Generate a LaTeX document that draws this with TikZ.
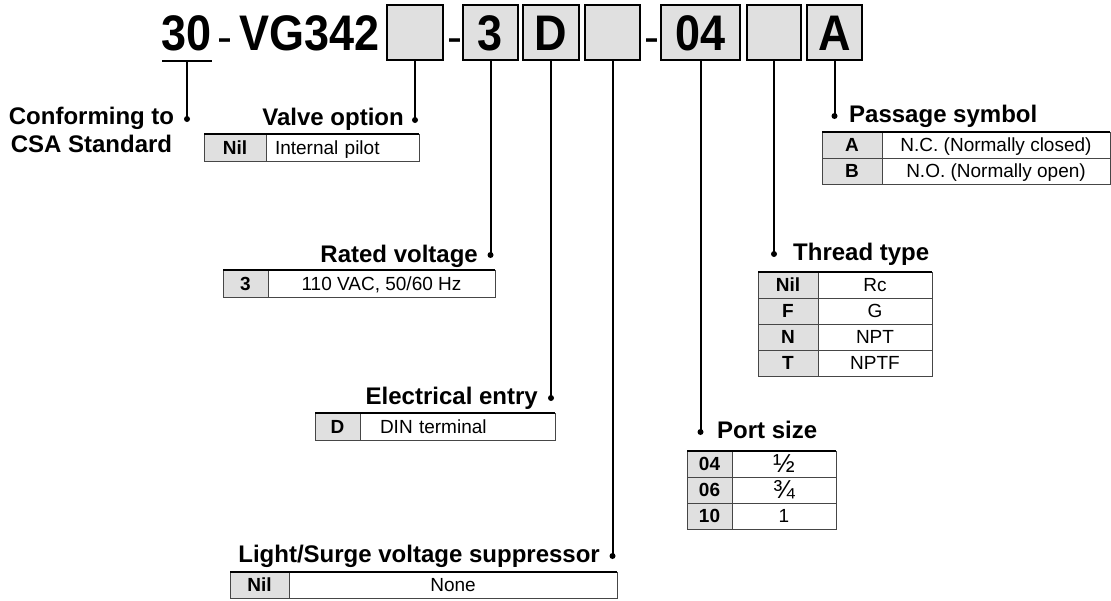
\documentclass[tikz,border=0pt]{standalone}
\usepackage{fontspec}
\setmainfont{Liberation Sans}
\newfontfamily\codefont{Liberation Sans Bold}[FakeStretch=0.9]
\usetikzlibrary{positioning}
\definecolor{cellGray}{RGB}{224,224,224}
\definecolor{ruleGray}{RGB}{70,70,70}
\tikzset{%%
  codebox/.style={draw=black, line width=2pt, fill=cellGray, minimum height=55pt, inner sep=0pt, outer sep=0pt, text height=36pt, text depth=0pt, font=\fontsize{50}{50}\codefont},
  codetxt/.style={inner sep=0pt, font=\fontsize{50}{50}\codefont},
  lead/.style={line width=2pt},
  leaddot/.style={circle, fill=black, inner sep=0pt, minimum size=6pt},
  ttl/.style={inner sep=0pt, font=\fontsize{24}{28}\selectfont\bfseries},
  keycell/.style={draw=ruleGray, line width=1pt, fill=cellGray, inner sep=0pt, outer sep=0pt, text height=13.6pt, text depth=0pt, font=\fontsize{19}{19}\selectfont\bfseries},
  valcell/.style={draw=ruleGray, line width=1pt, fill=white, inner sep=0pt, outer sep=0pt, text height=13.6pt, text depth=0pt, font=\fontsize{19}{19}\selectfont},
  topline/.style={line width=2pt}
  }

\begin{document}
\begin{tikzpicture}[x=1pt,y=-1pt]
  \useasboundingbox (0,0) rectangle (1111,600);
  % model code
  \node[codetxt, anchor=base] (code30) at (187,50.5) {30};
  \node[codetxt, font=\fontsize{45}{45}\selectfont, anchor=base] (hyph1) at (225,52) {-};
  \node[codetxt, anchor=base west] (codeVG) at (239,50.5) {VG342};
  \node[codebox, minimum width=56pt] (box1) at (415,32.5) {};
  \node[codetxt, font=\fontsize{45}{45}\selectfont, anchor=base] (hyph2) at (455,52) {-};
  \node[codebox, minimum width=55pt] (box3) at (490.5,32.5) {3};
  \node[codebox, minimum width=56pt] (boxD) at (551,32.5) {D};
  \node[codebox, minimum width=55pt] (box4) at (612.5,32.5) {};
  \node[codetxt, font=\fontsize{45}{45}\selectfont, anchor=base] (hyph3) at (652,52) {-};
  \node[codebox, minimum width=79pt] (box04) at (700.5,32.5) {04};
  \node[codebox, minimum width=54pt] (box6) at (774,32.5) {};
  \node[codebox, minimum width=55pt] (boxA) at (834.5,32.5) {A};
  \coordinate (u30) at (187,61);
  \draw[lead] ([xshift=-25pt]u30) -- ([xshift=25pt]u30);

  % leader dots
  \node[leaddot] (dCsa) at (187,119) {};
  \node[leaddot] (dValve) at (415,120) {};
  \node[leaddot] (dRated) at (490.5,255) {};
  \node[leaddot] (dElec) at (551,398) {};
  \node[leaddot] (dLight) at (612.5,556) {};
  \node[leaddot] (dPort) at (700.5,432) {};
  \node[leaddot] (dThread) at (774,254) {};
  \node[leaddot] (dPass) at (834.5,116) {};
  \draw[lead] (u30) -- (dCsa.center);
  \draw[lead] (box1.south) -- (dValve.center);
  \draw[lead] (box3.south) -- (dRated.center);
  \draw[lead] (boxD.south) -- (dElec.center);
  \draw[lead] (box4.south) -- (dLight.center);
  \draw[lead] (box04.south) -- (dPort.center);
  \draw[lead] (box6.south) -- (dThread.center);
  \draw[lead] (boxA.south) -- (dPass.center);

  % titles
  \node[ttl, align=center, anchor=north] (tCsa) at (91.5,107) {Conforming to\\CSA Standard};
  \node[ttl, anchor=base east] (tValve) at (404,125) {Valve option};
  \node[ttl, anchor=base east] (tRated) at (478,262) {Rated voltage};
  \node[ttl, anchor=base east] (tElec) at (538,404) {Electrical entry};
  \node[ttl, anchor=base east] (tLight) at (600,562) {Light/Surge voltage suppressor};
  \node[ttl, anchor=base west] (tPort) at (717,438) {Port size};
  \node[ttl, anchor=base west] (tThread) at (793,260) {Thread type};
  \node[ttl, anchor=base west] (tPass) at (849,122) {Passage symbol};

  % valve option
  \node[keycell, anchor=north west, minimum width=62pt, minimum height=27pt] (vk) at (204,134) {Nil};
  \node[valcell, right=0pt of vk, minimum height=27pt, text width=153pt, align=left, minimum width=153pt] (vv) {\hspace*{9pt}Internal pilot};
  \draw[topline] (vk.north west) -- (vv.north east);

  % rated voltage
  \node[keycell, anchor=north west, minimum width=45pt, minimum height=27pt] (rk) at (223,270) {3};
  \node[valcell, right=0pt of rk, minimum width=227pt, minimum height=27pt] (rv) {110 VAC, 50/60 Hz};
  \draw[topline] (rk.north west) -- (rv.north east);

  % electrical entry
  \node[keycell, anchor=north west, minimum width=45pt, minimum height=27pt] (ek) at (315,413) {D};
  \node[valcell, right=0pt of ek, minimum width=195pt, minimum height=27pt, text width=195pt, align=left] (ev) {\hspace*{20pt}DIN terminal};
  \draw[topline] (ek.north west) -- (ev.north east);

  % light/surge voltage suppressor
  \node[keycell, anchor=north west, minimum width=59pt, minimum height=26pt] (lk) at (230,572) {Nil};
  \node[valcell, right=0pt of lk, minimum width=328pt, minimum height=26pt] (lv) {None};
  \draw[topline] (lk.north west) -- (lv.north east);

  % port size
  \node[keycell, anchor=north west, minimum width=45pt, minimum height=26pt] (pk1) at (687,451) {04};
  \node[valcell, right=0pt of pk1, minimum width=104pt, minimum height=26pt, text height=17pt, font=\fontsize{26}{26}\selectfont] (pv1) {½};
  \node[keycell, below=0pt of pk1, minimum width=45pt, minimum height=26pt] (pk2) {06};
  \node[valcell, right=0pt of pk2, minimum width=104pt, minimum height=26pt, text height=17pt, font=\fontsize{26}{26}\selectfont] (pv2) {¾};
  \node[keycell, below=0pt of pk2, minimum width=45pt, minimum height=26pt] (pk3) {10};
  \node[valcell, right=0pt of pk3, minimum width=104pt, minimum height=26pt] (pv3) {1};
  \draw[topline] (pk1.north west) -- (pv1.north east);

  % thread type
  \node[keycell, anchor=north west, minimum width=60pt, minimum height=26pt] (tk1) at (758,272) {Nil};
  \node[valcell, right=0pt of tk1, minimum width=114pt, minimum height=26pt] (tv1) {Rc};
  \node[keycell, below=0pt of tk1, minimum width=60pt, minimum height=26pt] (tk2) {F};
  \node[valcell, right=0pt of tk2, minimum width=114pt, minimum height=26pt] (tv2) {G};
  \node[keycell, below=0pt of tk2, minimum width=60pt, minimum height=26pt] (tk3) {N};
  \node[valcell, right=0pt of tk3, minimum width=114pt, minimum height=26pt] (tv3) {NPT};
  \node[keycell, below=0pt of tk3, minimum width=60pt, minimum height=26pt] (tk4) {T};
  \node[valcell, right=0pt of tk4, minimum width=114pt, minimum height=26pt] (tv4) {NPTF};
  \draw[topline] (tk1.north west) -- (tv1.north east);

  % passage symbol
  \node[keycell, anchor=north west, minimum width=60pt, minimum height=26pt] (ak1) at (822,132) {A};
  \node[valcell, right=0pt of ak1, minimum width=228pt, minimum height=26pt] (av1) {N.C. (Normally closed)};
  \node[keycell, below=0pt of ak1, minimum width=60pt, minimum height=26pt] (ak2) {B};
  \node[valcell, right=0pt of ak2, minimum width=228pt, minimum height=26pt] (av2) {N.O. (Normally open)};
  \draw[topline] (ak1.north west) -- (av1.north east);
\end{tikzpicture}
\end{document}
